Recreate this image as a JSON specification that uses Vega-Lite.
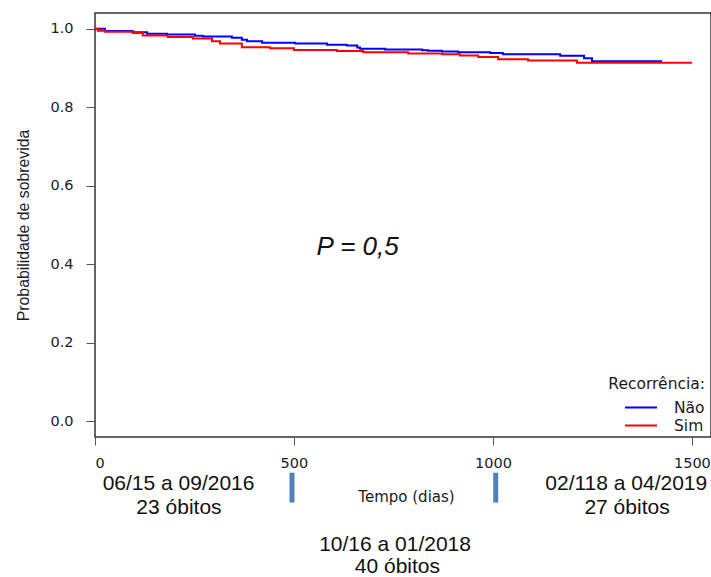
{
  "$schema": "https://vega.github.io/schema/vega-lite/v6.json",
  "autosize": {"type": "none"},
  "width": 616,
  "height": 424,
  "padding": {"left": 95, "top": 13, "right": 0, "bottom": 140},
  "background": "white",
  "config": {
    "view": {"stroke": "#333333", "strokeWidth": 1.5},
    "axis": {"grid": false, "domain": false, "tickColor": "#555555", "labelColor": "#1a1a2a", "titleColor": "#1a1a2a", "labelFont": "DejaVu Sans", "titleFont": "DejaVu Sans", "labelFontWeight": "normal", "titleFontWeight": "normal"}
  },
  "datasets": {
    "curvas": [
      {"grupo": "Não", "tempo": 0, "surv": 1.0},
      {"grupo": "Não", "tempo": 25, "surv": 0.994},
      {"grupo": "Não", "tempo": 95, "surv": 0.991},
      {"grupo": "Não", "tempo": 131, "surv": 0.987},
      {"grupo": "Não", "tempo": 181, "surv": 0.985},
      {"grupo": "Não", "tempo": 251, "surv": 0.982},
      {"grupo": "Não", "tempo": 271, "surv": 0.98},
      {"grupo": "Não", "tempo": 344, "surv": 0.977},
      {"grupo": "Não", "tempo": 369, "surv": 0.972},
      {"grupo": "Não", "tempo": 382, "surv": 0.968},
      {"grupo": "Não", "tempo": 420, "surv": 0.964},
      {"grupo": "Não", "tempo": 503, "surv": 0.962},
      {"grupo": "Não", "tempo": 583, "surv": 0.959},
      {"grupo": "Não", "tempo": 633, "surv": 0.957},
      {"grupo": "Não", "tempo": 659, "surv": 0.952},
      {"grupo": "Não", "tempo": 666, "surv": 0.949},
      {"grupo": "Não", "tempo": 729, "surv": 0.947},
      {"grupo": "Não", "tempo": 822, "surv": 0.945},
      {"grupo": "Não", "tempo": 837, "surv": 0.944},
      {"grupo": "Não", "tempo": 872, "surv": 0.942},
      {"grupo": "Não", "tempo": 912, "surv": 0.94},
      {"grupo": "Não", "tempo": 993, "surv": 0.938},
      {"grupo": "Não", "tempo": 1025, "surv": 0.935},
      {"grupo": "Não", "tempo": 1169, "surv": 0.931},
      {"grupo": "Não", "tempo": 1229, "surv": 0.925},
      {"grupo": "Não", "tempo": 1249, "surv": 0.917},
      {"grupo": "Não", "tempo": 1425, "surv": 0.917},
      {"grupo": "Sim", "tempo": 0, "surv": 1.0},
      {"grupo": "Sim", "tempo": 7, "surv": 0.995},
      {"grupo": "Sim", "tempo": 25, "surv": 0.992},
      {"grupo": "Sim", "tempo": 95, "surv": 0.989},
      {"grupo": "Sim", "tempo": 120, "surv": 0.983},
      {"grupo": "Sim", "tempo": 183, "surv": 0.979},
      {"grupo": "Sim", "tempo": 246, "surv": 0.975},
      {"grupo": "Sim", "tempo": 294, "surv": 0.968},
      {"grupo": "Sim", "tempo": 314, "surv": 0.962},
      {"grupo": "Sim", "tempo": 369, "surv": 0.953},
      {"grupo": "Sim", "tempo": 440, "surv": 0.95},
      {"grupo": "Sim", "tempo": 500, "surv": 0.946},
      {"grupo": "Sim", "tempo": 608, "surv": 0.943},
      {"grupo": "Sim", "tempo": 674, "surv": 0.94},
      {"grupo": "Sim", "tempo": 787, "surv": 0.937},
      {"grupo": "Sim", "tempo": 872, "surv": 0.935},
      {"grupo": "Sim", "tempo": 917, "surv": 0.932},
      {"grupo": "Sim", "tempo": 963, "surv": 0.928},
      {"grupo": "Sim", "tempo": 1013, "surv": 0.922},
      {"grupo": "Sim", "tempo": 1088, "surv": 0.919},
      {"grupo": "Sim", "tempo": 1211, "surv": 0.913},
      {"grupo": "Sim", "tempo": 1500, "surv": 0.913}
    ],
    "marcos": [
      {"tempo": 495, "surv": -0.131, "surv2": -0.207},
      {"tempo": 1007, "surv": -0.131, "surv2": -0.207}
    ],
    "periodos": [
      {"label": "06/15 a 09/2016", "tempo": 210, "surv": -0.159},
      {"label": "23 óbitos", "tempo": 211, "surv": -0.22},
      {"label": "02/118 a 04/2019", "tempo": 1335, "surv": -0.159},
      {"label": "27 óbitos", "tempo": 1337, "surv": -0.22},
      {"label": "10/16 a 01/2018", "tempo": 754, "surv": -0.314},
      {"label": "40 óbitos", "tempo": 760, "surv": -0.370}
    ],
    "pvalor": [
      {"label": "P = 0,5", "tempo": 660, "surv": 0.443}
    ]
  },
  "layer": [
    {
      "data": {"name": "curvas"},
      "mark": {"type": "line", "interpolate": "step-after", "strokeWidth": 2},
      "encoding": {
        "x": {"field": "tempo", "type": "quantitative",
          "scale": {"domain": [0, 1548], "nice": false, "zero": false},
          "axis": {"values": [0, 500, 1000, 1500], "format": "d", "tickSize": 8, "labelFontSize": 14.5, "labelPadding": 18, "labelBaseline": "middle",
            "title": "Tempo (dias)", "titleFontSize": 15, "titleX": 311, "titleY": 59, "titleBaseline": "middle", "titleAnchor": null}},
        "y": {"field": "surv", "type": "quantitative",
          "scale": {"domain": [-0.04, 1.04], "nice": false, "zero": false},
          "axis": {"values": [0, 0.2, 0.4, 0.6, 0.8, 1.0], "format": ".1f", "tickSize": 9, "labelFontSize": 14.5, "labelPadding": 13, "labelAngle": 0,
            "title": "Probabilidade de sobrevida", "titleFont": "Liberation Sans", "titleFontSize": 15.8, "titleX": -72, "titleY": 212, "titleAngle": 270, "titleAlign": "center", "titleBaseline": "middle"}},
        "color": {"field": "grupo", "type": "nominal",
          "scale": {"domain": ["Não", "Sim"], "range": ["#0000ff", "#ff0000"]},
          "legend": {"title": "Recorrência:", "orient": "none", "legendX": 513, "legendY": 364,
            "titleFont": "DejaVu Sans", "titleFontSize": 15.5, "titleFontWeight": "normal", "titleColor": "#1a1a1a", "titleAnchor": "end", "titlePadding": 6,
            "labelFont": "DejaVu Sans", "labelFontSize": 15.5, "labelColor": "#1a1a1a", "labelOffset": 24,
            "symbolType": "M-2,0H2", "symbolSize": 256, "symbolStrokeWidth": 2, "rowPadding": 0, "padding": 0}}
      }
    },
    {
      "data": {"name": "marcos"},
      "mark": {"type": "rule", "strokeWidth": 5, "color": "#4f81bd"},
      "encoding": {
        "x": {"field": "tempo", "type": "quantitative"},
        "y": {"field": "surv", "type": "quantitative"},
        "y2": {"field": "surv2"}
      }
    },
    {
      "data": {"name": "periodos"},
      "mark": {"type": "text", "font": "Liberation Sans", "fontSize": 21, "color": "#111111", "align": "center", "baseline": "middle"},
      "encoding": {
        "x": {"field": "tempo", "type": "quantitative"},
        "y": {"field": "surv", "type": "quantitative"},
        "text": {"field": "label"}
      }
    },
    {
      "data": {"name": "pvalor"},
      "mark": {"type": "text", "font": "Liberation Sans", "fontStyle": "italic", "fontSize": 26, "color": "#111111", "align": "center", "baseline": "middle"},
      "encoding": {
        "x": {"field": "tempo", "type": "quantitative"},
        "y": {"field": "surv", "type": "quantitative"},
        "text": {"field": "label"}
      }
    }
  ]
}
